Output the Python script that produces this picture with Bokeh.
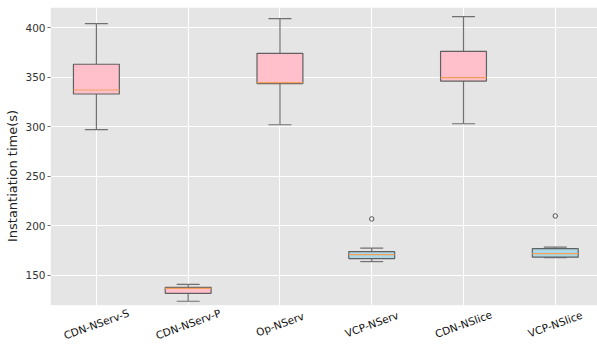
from bokeh.plotting import figure
from bokeh.embed import file_html
from bokeh.resources import INLINE
from bokeh.models import ColumnDataSource, FixedTicker, Range1d, BoxAnnotation
from bokeh.core.properties import value
import math

categories = ["CDN-NServ-S", "CDN-NServ-P", "Op-NServ", "VCP-NServ", "CDN-NSlice", "VCP-NSlice"]
lower = [297, 124, 302, 164, 303, 168]
q1 = [333, 132, 343.5, 167, 346, 168.5]
median = [337, 137, 344.5, 171, 349.5, 172]
q3 = [363, 138, 374, 174, 376, 177]
upper = [404, 141, 409, 177.5, 411, 178.5]
fills = ["#FFC0CB", "#FFC0CB", "#FFC0CB", "#ADD8E6", "#FFC0CB", "#ADD8E6"]
outlier_cats = ["VCP-NServ", "VCP-NSlice"]
outlier_vals = [207, 210]
y_ticks = [150, 200, 250, 300, 350, 400]

pos = list(range(len(categories)))
box_w = 0.5
cap_w = 0.25
y_floor = 120          # bottom of the plotting panel
label_y = 101          # where the rotated category names sit (below the panel)

src = ColumnDataSource(dict(
    x=pos, cat=categories, lower=lower, q1=q1, med=median, q3=q3, upper=upper, fill=fills,
    cap_l=[x - cap_w / 2 for x in pos], cap_r=[x + cap_w / 2 for x in pos],
    box_l=[x - box_w / 2 for x in pos], box_r=[x + box_w / 2 for x in pos],
))

p = figure(x_range=Range1d(-0.5, 5.46), y_range=Range1d(80.4, 420.2),
           width=597, height=344,
           output_backend="svg", toolbar_location=None,
           min_border_left=50, min_border_right=0, min_border_top=7, min_border_bottom=0)
p.background_fill_color = "white"
p.border_fill_color = "white"
p.outline_line_color = None

# grey panel (matplotlib ggplot style) above y_floor
p.add_layout(BoxAnnotation(bottom=y_floor, fill_color="#E5E5E5", fill_alpha=1,
                           line_color=None, level="image"))

p.xgrid.ticker = FixedTicker(ticks=pos)
p.xgrid.bounds = (y_floor, 420.2)
p.xgrid.grid_line_color = "white"
p.ygrid.grid_line_color = "white"
p.xgrid.grid_line_width = 1
p.ygrid.grid_line_width = 1
p.xaxis.visible = False

wc = "#707070"
# whiskers
p.segment(x0="x", y0="q3", x1="x", y1="upper", source=src, line_color=wc, line_width=1.2)
p.segment(x0="x", y0="lower", x1="x", y1="q1", source=src, line_color=wc, line_width=1.2)
# caps
p.segment(x0="cap_l", y0="upper", x1="cap_r", y1="upper", source=src, line_color=wc, line_width=1.2)
p.segment(x0="cap_l", y0="lower", x1="cap_r", y1="lower", source=src, line_color=wc, line_width=1.2)
# boxes
p.vbar(x="x", bottom="q1", top="q3", width=box_w, source=src,
       fill_color="fill", line_color="#606060", line_width=1.2)
# medians
p.segment(x0="box_l", y0="med", x1="box_r", y1="med", source=src,
          line_color="#F5A05A", line_width=1.2)
# outliers
p.scatter(x=[categories.index(c) for c in outlier_cats], y=outlier_vals, marker="circle",
          size=4.5, fill_color=None, line_color="#555555", line_width=1)

# rotated, centred category labels
p.text(x="x", y=label_y, text="cat", source=src, angle=math.radians(20),
       text_align="center", text_baseline="middle",
       text_font=value("DejaVu Sans"), text_font_size="10.5px", text_color="#111111")

p.yaxis.ticker = FixedTicker(ticks=y_ticks)
p.yaxis.bounds = (143.5, 400.5)
p.yaxis.axis_label = "Instantiation time(s)"
p.yaxis.axis_label_text_font = "DejaVu Sans"
p.yaxis.axis_label_text_font_style = "normal"
p.yaxis.axis_label_text_font_size = "13px"
p.yaxis.axis_label_text_color = "#222222"
p.yaxis.axis_label_standoff = 2
p.yaxis.axis_line_color = None
p.yaxis.major_label_text_font = "DejaVu Sans"
p.yaxis.major_label_text_font_size = "10.5px"
p.yaxis.major_label_text_color = "#333333"
p.yaxis.minor_tick_line_color = None
p.yaxis.major_tick_line_color = "#666666"
p.yaxis.major_tick_out = 3
p.yaxis.major_tick_in = 0
p.yaxis.major_label_standoff = 2

open("out.html", "w").write(file_html(p, INLINE))
